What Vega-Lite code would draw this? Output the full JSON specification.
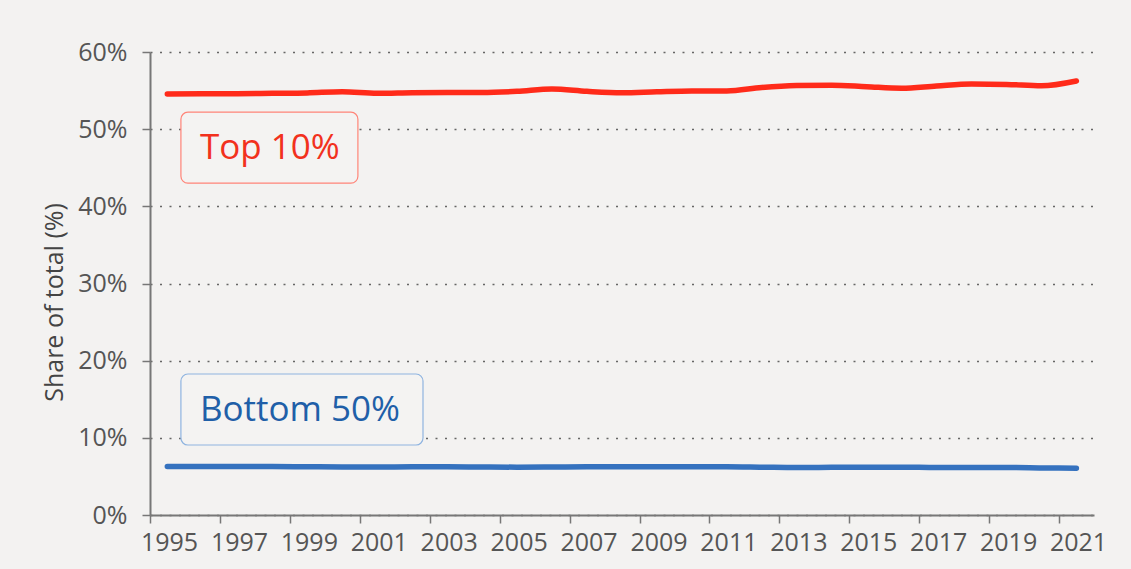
{
  "$schema": "https://vega.github.io/schema/vega-lite/v6.json",
  "autosize": {"type": "none"},
  "width": 944,
  "height": 463,
  "padding": {"left": 150, "top": 52, "right": 37, "bottom": 54},
  "background": "#f3f2f1",
  "config": {
    "font": "Open Sans",
    "view": {"stroke": null},
    "axis": {"labelFont": "Open Sans", "titleFont": "Open Sans"}
  },
  "datasets": {
    "series": [
      {"date": "1995-07-01", "group": "Top 10%", "share": 54.55},
      {"date": "1996-07-01", "group": "Top 10%", "share": 54.58},
      {"date": "1997-07-01", "group": "Top 10%", "share": 54.6},
      {"date": "1998-07-01", "group": "Top 10%", "share": 54.65},
      {"date": "1999-07-01", "group": "Top 10%", "share": 54.7},
      {"date": "2000-07-01", "group": "Top 10%", "share": 54.85},
      {"date": "2001-07-01", "group": "Top 10%", "share": 54.65},
      {"date": "2002-07-01", "group": "Top 10%", "share": 54.72},
      {"date": "2003-07-01", "group": "Top 10%", "share": 54.75},
      {"date": "2004-07-01", "group": "Top 10%", "share": 54.75},
      {"date": "2005-07-01", "group": "Top 10%", "share": 54.9},
      {"date": "2006-07-01", "group": "Top 10%", "share": 55.2},
      {"date": "2007-07-01", "group": "Top 10%", "share": 54.9},
      {"date": "2008-07-01", "group": "Top 10%", "share": 54.72},
      {"date": "2009-07-01", "group": "Top 10%", "share": 54.85},
      {"date": "2010-07-01", "group": "Top 10%", "share": 54.95},
      {"date": "2011-07-01", "group": "Top 10%", "share": 54.95},
      {"date": "2012-07-01", "group": "Top 10%", "share": 55.4},
      {"date": "2013-07-01", "group": "Top 10%", "share": 55.65},
      {"date": "2014-07-01", "group": "Top 10%", "share": 55.7},
      {"date": "2015-07-01", "group": "Top 10%", "share": 55.5},
      {"date": "2016-07-01", "group": "Top 10%", "share": 55.3},
      {"date": "2017-07-01", "group": "Top 10%", "share": 55.6},
      {"date": "2018-07-01", "group": "Top 10%", "share": 55.85},
      {"date": "2019-07-01", "group": "Top 10%", "share": 55.8},
      {"date": "2020-07-01", "group": "Top 10%", "share": 55.63},
      {"date": "2021-07-01", "group": "Top 10%", "share": 56.25},
      {"date": "1995-07-01", "group": "Bottom 50%", "share": 6.3},
      {"date": "1996-07-01", "group": "Bottom 50%", "share": 6.3},
      {"date": "1997-07-01", "group": "Bottom 50%", "share": 6.3},
      {"date": "1998-07-01", "group": "Bottom 50%", "share": 6.28},
      {"date": "1999-07-01", "group": "Bottom 50%", "share": 6.25},
      {"date": "2000-07-01", "group": "Bottom 50%", "share": 6.22},
      {"date": "2001-07-01", "group": "Bottom 50%", "share": 6.22},
      {"date": "2002-07-01", "group": "Bottom 50%", "share": 6.25},
      {"date": "2003-07-01", "group": "Bottom 50%", "share": 6.25},
      {"date": "2004-07-01", "group": "Bottom 50%", "share": 6.22},
      {"date": "2005-07-01", "group": "Bottom 50%", "share": 6.2},
      {"date": "2006-07-01", "group": "Bottom 50%", "share": 6.22},
      {"date": "2007-07-01", "group": "Bottom 50%", "share": 6.25},
      {"date": "2008-07-01", "group": "Bottom 50%", "share": 6.25},
      {"date": "2009-07-01", "group": "Bottom 50%", "share": 6.25},
      {"date": "2010-07-01", "group": "Bottom 50%", "share": 6.25},
      {"date": "2011-07-01", "group": "Bottom 50%", "share": 6.25},
      {"date": "2012-07-01", "group": "Bottom 50%", "share": 6.2},
      {"date": "2013-07-01", "group": "Bottom 50%", "share": 6.15},
      {"date": "2014-07-01", "group": "Bottom 50%", "share": 6.18},
      {"date": "2015-07-01", "group": "Bottom 50%", "share": 6.2},
      {"date": "2016-07-01", "group": "Bottom 50%", "share": 6.2},
      {"date": "2017-07-01", "group": "Bottom 50%", "share": 6.15},
      {"date": "2018-07-01", "group": "Bottom 50%", "share": 6.15},
      {"date": "2019-07-01", "group": "Bottom 50%", "share": 6.15},
      {"date": "2020-07-01", "group": "Bottom 50%", "share": 6.1},
      {"date": "2021-07-01", "group": "Bottom 50%", "share": 6.05}
    ],
    "labels": [
      {"label": "Top 10%", "start": "1995-11-20", "end": "2000-12-12", "lo": 43.0, "hi": 52.2, "mid": 47.6},
      {"label": "Bottom 50%", "start": "1995-11-20", "end": "2002-10-23", "lo": 9.07, "hi": 18.27, "mid": 13.67}
    ]
  },
  "layer": [
    {
      "data": {"name": "series"},
      "mark": {"type": "line", "strokeWidth": 5.5, "interpolate": "monotone", "strokeCap": "round"},
      "encoding": {
        "x": {
          "field": "date", "type": "temporal",
          "scale": {"domain": [{"year": 1995, "month": 1, "date": 1}, {"year": 2022, "month": 1, "date": 1}]},
          "axis": {
            "title": null, "format": "%Y", "grid": false,
            "values": [{"year": 1995}, {"year": 1997}, {"year": 1999}, {"year": 2001}, {"year": 2003}, {"year": 2005}, {"year": 2007}, {"year": 2009}, {"year": 2011}, {"year": 2013}, {"year": 2015}, {"year": 2017}, {"year": 2019}, {"year": 2021}],
            "labelFontSize": 25, "labelColor": "#555555", "labelOffset": 19, "labelPadding": 7,
            "labelFlush": false, "labelOverlap": false,
            "tickSize": 8, "tickWidth": 1.5, "tickColor": "#777777",
            "domainColor": "#777777", "domainWidth": 2
          }
        },
        "y": {
          "field": "share", "type": "quantitative",
          "scale": {"domain": [0, 60], "nice": false},
          "axis": {
            "title": "Share of total (%)", "titleFontSize": 25, "titleFontWeight": "normal", "titleColor": "#444444", "titlePadding": 10, "titleY": 250,
            "values": [0, 10, 20, 30, 40, 50, 60],
            "labelExpr": "datum.value + '%'",
            "labelFontSize": 25, "labelColor": "#555555", "labelPadding": 15,
            "tickSize": 8, "tickWidth": 1.5, "tickColor": "#777777",
            "domainColor": "#777777", "domainWidth": 2,
            "grid": true, "gridDash": [2, 7.5], "gridColor": "#666666", "gridWidth": 1.5
          }
        },
        "color": {
          "field": "group", "type": "nominal",
          "scale": {"domain": ["Top 10%", "Bottom 50%"], "range": ["#ff2b1a", "#3572bf"]},
          "legend": null
        }
      }
    },
    {
      "data": {"name": "labels"},
      "mark": {"type": "rect", "fill": "#f4f3f2", "strokeWidth": 1.2, "cornerRadius": 7},
      "encoding": {
        "x": {"field": "start", "type": "temporal"},
        "x2": {"field": "end"},
        "y": {"field": "lo", "type": "quantitative"},
        "y2": {"field": "hi"},
        "stroke": {
          "field": "label", "type": "nominal",
          "scale": {"domain": ["Top 10%", "Bottom 50%"], "range": ["#ff8478", "#8fb4e0"]},
          "legend": null
        }
      }
    },
    {
      "data": {"name": "labels"},
      "mark": {"type": "text", "align": "left", "baseline": "middle", "dx": 19, "fontSize": 35, "fontWeight": 500},
      "encoding": {
        "x": {"field": "start", "type": "temporal"},
        "y": {"field": "mid", "type": "quantitative"},
        "text": {"field": "label"},
        "color": {
          "field": "label", "type": "nominal",
          "scale": {"domain": ["Top 10%", "Bottom 50%"], "range": ["#f2311d", "#1f5fa8"]},
          "legend": null
        }
      }
    }
  ],
  "resolve": {"scale": {"color": "independent", "stroke": "independent"}}
}
